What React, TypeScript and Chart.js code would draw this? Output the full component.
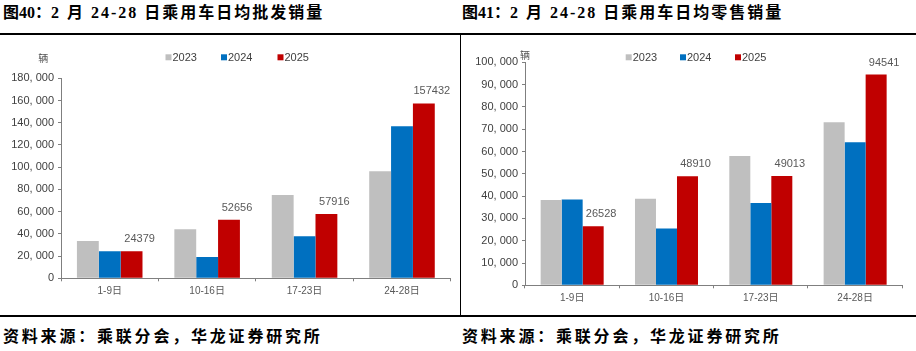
import React, { useEffect, useRef } from 'react';
import { Chart, registerables } from 'chart.js';
Chart.register(...registerables);

const categories = ['1-9日', '10-16日', '17-23日', '24-28日'];
const seriesLabels = ['2023', '2024', '2025'];
const seriesColors = ['#BFBFBF', '#0070C0', '#C00000'];

const wholesale2023 = [33500, 44100, 75000, 96300];
const wholesale2024 = [24300, 19200, 37800, 136800];
const wholesale2025 = [24379, 52656, 57916, 157432];

const retail2023 = [38200, 38800, 58000, 73100];
const retail2024 = [38500, 25500, 36900, 64200];
const retail2025 = [26528, 48910, 49013, 94541];

const wholesaleMax = 180000;
const wholesaleStep = 20000;
const retailMax = 100000;
const retailStep = 10000;

const unitLabel = '辆';
const leftTitle = ['图40：', '2 月 24-28 日乘用车日均批发销量'];
const rightTitle = ['图41：', '2 月 24-28 日乘用车日均零售销量'];
const sourceText = '资料来源：乘联分会，华龙证券研究所';

const LATIN = '"Liberation Sans", Arial, "Noto Sans CJK SC", sans-serif';

type PanelLayout = {
  width: number;
  height: number;
  padTop: number;
  padRight: number;
  padBottom: number;
  yWidth: number;
  xHeight: number;
  catPct: number;
  legendX: number[];
  legendY: number;
  unitX: number;
  unitY: number;
  labelDx: number;
  labelDy: number;
};

function fmtTick(v: number) {
  if (v === 0) return '0';
  return Number(v).toLocaleString('en-US').replace(/,/g, ', ');
}

function ChartPanel(props: {
  series: number[][];
  max: number;
  step: number;
  layout: PanelLayout;
}) {
  const ref = useRef<HTMLCanvasElement | null>(null);
  useEffect(() => {
    const L = props.layout;
    const overlay = {
      id: 'overlay',
      afterDraw(chart: any) {
        const ctx = chart.ctx;
        ctx.save();
        // unit
        ctx.font = '10px "Noto Sans CJK SC", sans-serif';
        ctx.fillStyle = '#595959';
        ctx.textAlign = 'center';
        ctx.textBaseline = 'middle';
        ctx.fillText(unitLabel, L.unitX, L.unitY);
        // legend
        ctx.font = '11px ' + LATIN;
        ctx.textAlign = 'left';
        chart.data.datasets.forEach((ds: any, i: number) => {
          const x = L.legendX[i];
          ctx.fillStyle = ds.backgroundColor;
          ctx.fillRect(x, L.legendY - 3, 6, 6);
          ctx.fillStyle = '#404040';
          ctx.fillText(ds.label, x + 7, L.legendY + 0.5);
        });
        // data labels for last series
        const last = chart.data.datasets.length - 1;
        const meta = chart.getDatasetMeta(last);
        ctx.fillStyle = '#595959';
        ctx.textAlign = 'center';
        meta.data.forEach((el: any, j: number) => {
          const v = chart.data.datasets[last].data[j];
          ctx.fillText(String(v), el.x + L.labelDx, el.y - L.labelDy);
        });
        ctx.restore();
      },
    };
    const chart = new Chart(ref.current as HTMLCanvasElement, {
      type: 'bar',
      data: {
        labels: categories,
        datasets: props.series.map((d, i) => ({
          label: seriesLabels[i],
          data: d,
          backgroundColor: seriesColors[i],
          borderWidth: 0,
          barPercentage: 1,
          categoryPercentage: L.catPct,
        })),
      },
      options: {
        responsive: false,
        animation: false,
        layout: {
          padding: { top: L.padTop, right: L.padRight, bottom: L.padBottom, left: 0 },
        },
        plugins: {
          legend: { display: false },
          tooltip: { enabled: false },
        },
        scales: {
          x: {
            grid: {
              display: true,
              drawOnChartArea: false,
              drawTicks: true,
              tickLength: 3,
              color: '#7f7f7f',
            },
            border: { color: '#7f7f7f', width: 1 },
            ticks: {
              color: '#595959',
              font: { size: 10, family: LATIN },
              padding: 4,
              maxRotation: 0,
            },
            afterFit: (s: any) => {
              s.height = L.xHeight;
            },
          },
          y: {
            min: 0,
            max: props.max,
            grid: {
              display: true,
              drawOnChartArea: false,
              drawTicks: true,
              tickLength: 3,
              color: '#7f7f7f',
            },
            border: { color: '#7f7f7f', width: 1 },
            ticks: {
              stepSize: props.step,
              color: '#404040',
              font: { size: 11, family: LATIN },
              padding: 4,
              callback: (v: any) => fmtTick(Number(v)),
            },
            afterFit: (s: any) => {
              s.width = L.yWidth;
            },
          },
        },
      },
      plugins: [overlay],
    } as any);
    return () => chart.destroy();
  }, []);
  return (
    <canvas
      ref={ref}
      width={props.layout.width}
      height={props.layout.height}
      style={{ width: props.layout.width, height: props.layout.height, display: 'block' }}
    />
  );
}

const leftLayout: PanelLayout = {
  width: 458,
  height: 274,
  padTop: 42.3,
  padRight: 7.3,
  padBottom: 9.7,
  yWidth: 61,
  xHeight: 22,
  catPct: 0.673,
  legendX: [165.5, 221, 277.5],
  legendY: 21.3,
  unitX: 43.3,
  unitY: 22.3,
  labelDx: 8,
  labelDy: 12,
};

const rightLayout: PanelLayout = {
  width: 455,
  height: 274,
  padTop: 26.3,
  padRight: 13.7,
  padBottom: 4.7,
  yWidth: 64,
  xHeight: 20,
  catPct: 0.668,
  legendX: [164.7, 219, 274],
  legendY: 21.3,
  unitX: 64,
  unitY: 19,
  labelDx: 8,
  labelDy: 12,
};

const titleStyle: React.CSSProperties = {
  position: 'absolute',
  top: 4,
  fontFamily: '"Liberation Serif", "Noto Sans CJK SC", serif',
  fontWeight: 700,
  fontSize: 16,
  lineHeight: '18px',
  color: '#000',
  whiteSpace: 'nowrap',
};

const sourceStyle: React.CSSProperties = {
  position: 'absolute',
  top: 325,
  fontFamily: '"Noto Sans CJK SC", sans-serif',
  fontWeight: 700,
  fontSize: 16,
  lineHeight: '20px',
  letterSpacing: 2.8,
  color: '#000',
  whiteSpace: 'nowrap',
};

export default function App() {
  return (
    <div
      style={{
        position: 'absolute',
        left: 0,
        top: 0,
        width: 916,
        height: 351,
        background: '#fff',
        overflow: 'hidden',
      }}
    >
      <div style={{ ...titleStyle, left: 3 }}>
        <span>{leftTitle[0]}</span>
        <span style={{ letterSpacing: 2 }}>{leftTitle[1]}</span>
      </div>
      <div style={{ ...titleStyle, left: 462 }}>
        <span>{rightTitle[0]}</span>
        <span style={{ letterSpacing: 2 }}>{rightTitle[1]}</span>
      </div>
      <div style={{ position: 'absolute', left: 0, top: 33, width: 916, height: 2, background: '#000' }} />
      <div style={{ position: 'absolute', left: 0, top: 315, width: 916, height: 2, background: '#000' }} />
      <div style={{ position: 'absolute', left: 459.5, top: 34, width: 1.5, height: 282, background: '#000' }} />
      <div style={{ position: 'absolute', left: 0, top: 36 }}>
        <ChartPanel
          series={[wholesale2023, wholesale2024, wholesale2025]}
          max={wholesaleMax}
          step={wholesaleStep}
          layout={leftLayout}
        />
      </div>
      <div style={{ position: 'absolute', left: 461, top: 36 }}>
        <ChartPanel
          series={[retail2023, retail2024, retail2025]}
          max={retailMax}
          step={retailStep}
          layout={rightLayout}
        />
      </div>
      <div style={{ ...sourceStyle, left: 3 }}>{sourceText}</div>
      <div style={{ ...sourceStyle, left: 462 }}>{sourceText}</div>
    </div>
  );
}
